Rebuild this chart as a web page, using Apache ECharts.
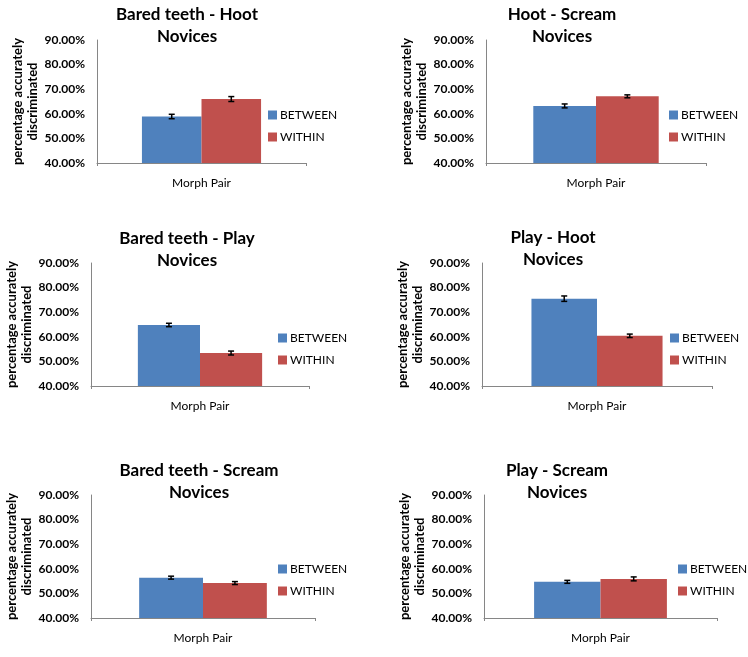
<!DOCTYPE html>
<html>
<head>
<meta charset="utf-8">
<script src="https://cdn.jsdelivr.net/npm/echarts@6/dist/echarts.min.js"></script>
<style>
  html, body { margin: 0; padding: 0; background: #fff; }
  #chart { width: 748px; height: 657px; }
</style>
</head>
<body>
<div id="chart"></div>
<script>
// ---- data ----
const panelTitles = ['Bared teeth - Hoot', 'Hoot - Scream', 'Bared teeth - Play', 'Play - Hoot', 'Bared teeth - Scream', 'Play - Scream'];
const panelSubtitle = 'Novices';
const categories = ['Morph Pair'];
const seriesNames = ['BETWEEN', 'WITHIN'];
const betweenValues = [58.9, 63.2, 64.8, 75.5, 56.4, 54.7];
const withinValues = [66.0, 67.1, 53.4, 60.4, 54.2, 55.9];
const betweenErrors = [0.9, 0.8, 0.7, 1.1, 0.6, 0.6];
const withinErrors = [1.0, 0.6, 0.8, 0.7, 0.6, 0.8];
const yMin = 40, yMax = 90, yInterval = 10;
const yAxisName = 'percentage accurately\ndiscriminated';

// ---- layout (pixels) ----
const grids = [
  { left: 97, top: 40, width: 209, height: 123 },
  { left: 486, top: 40, width: 220, height: 123 },
  { left: 91, top: 263, width: 218, height: 123 },
  { left: 482, top: 263, width: 230, height: 123 },
  { left: 91, top: 495, width: 224, height: 123 },
  { left: 484, top: 495, width: 233, height: 123 }
];
const titleCenters = [[187, 4], [562, 4], [187, 228], [553, 227], [199, 460], [557, 460]];
const legendPos = [[268, 109], [669, 109], [278, 332], [670, 332], [278, 563], [678, 563]];
const nameGaps = [47, 49, 46, 44, 46, 45];

const COLORS = ['#4F81BD', '#C0504D'];
const FONT = 'Lato, "Liberation Sans", sans-serif';
const BAR_FRAC = 0.285;

const option = {
  animation: false,
  backgroundColor: '#ffffff',
  textStyle: { fontFamily: FONT },
  title: [], legend: [], grid: [], xAxis: [], yAxis: [], series: []
};

const valueSets = [betweenValues, withinValues];
const errorSets = [betweenErrors, withinErrors];

for (let p = 0; p < 6; p++) {
  option.grid.push(Object.assign({ containLabel: false }, grids[p]));
  option.title.push({
    text: panelTitles[p] + '\n' + panelSubtitle,
    left: titleCenters[p][0], top: titleCenters[p][1],
    textAlign: 'center', padding: 0,
    textStyle: { fontFamily: FONT, fontSize: 17, fontWeight: 'bold', color: '#000', lineHeight: 22 }
  });
  option.legend.push({
    data: seriesNames, orient: 'vertical', left: legendPos[p][0], top: legendPos[p][1],
    padding: 0, itemWidth: 9, itemHeight: 9, itemGap: 10, icon: 'rect', selectedMode: false,
    textStyle: { fontFamily: FONT, fontSize: 12, color: '#000', padding: [0, 0, 0, -2] }
  });
  option.xAxis.push({
    type: 'category', gridIndex: p, data: categories,
    axisLine: { lineStyle: { color: '#868686', width: 1 } },
    axisTick: { show: true, length: 3, lineStyle: { color: '#868686' } },
    axisLabel: { margin: 14, fontSize: 12, color: '#000', fontFamily: FONT }
  });
  option.yAxis.push({
    type: 'value', gridIndex: p, min: yMin, max: yMax, interval: yInterval,
    name: yAxisName, nameLocation: 'middle', nameRotate: 90, nameGap: nameGaps[p],
    nameTextStyle: { fontFamily: FONT, fontSize: 13, fontWeight: 'bold', color: '#000', lineHeight: 15 },
    axisLine: { show: true, lineStyle: { color: '#868686', width: 1 } },
    axisTick: { show: false },
    splitLine: { show: false },
    axisLabel: { margin: 12, fontSize: 12, fontWeight: 'bold', color: '#000', fontFamily: FONT,
      formatter: v => v.toFixed(2) + '%' }
  });
  for (let s = 0; s < 2; s++) {
    option.series.push({
      type: 'bar', name: seriesNames[s], xAxisIndex: p, yAxisIndex: p,
      data: [valueSets[s][p]], barWidth: (BAR_FRAC * 100) + '%', barGap: '0%',
      itemStyle: { color: COLORS[s] }
    });
  }
  for (let s = 0; s < 2; s++) {
    const side = s === 0 ? -1 : 1;
    option.series.push({
      type: 'custom', name: 'err' + s, xAxisIndex: p, yAxisIndex: p, z: 10,
      data: [[0, valueSets[s][p], errorSets[s][p]]],
      encode: { x: 0, y: 1 },
      renderItem: function (params, api) {
        const v = api.value(1), e = api.value(2);
        const band = api.size([1, 0])[0];
        const c = api.coord([api.value(0), v]);
        const x = c[0] + side * band * BAR_FRAC / 2;
        const hi = api.coord([api.value(0), v + e])[1];
        const lo = api.coord([api.value(0), v - e])[1];
        const cap = 3;
        const st = { stroke: '#000', lineWidth: 1.5 };
        return { type: 'group', children: [
          { type: 'line', shape: { x1: x, y1: hi, x2: x, y2: lo }, style: st },
          { type: 'line', shape: { x1: x - cap, y1: hi, x2: x + cap, y2: hi }, style: st },
          { type: 'line', shape: { x1: x - cap, y1: lo, x2: x + cap, y2: lo }, style: st }
        ]};
      }
    });
  }
}

const chart = echarts.init(document.getElementById('chart'), null, { renderer: 'canvas' });
chart.setOption(option);
</script>
</body>
</html>
